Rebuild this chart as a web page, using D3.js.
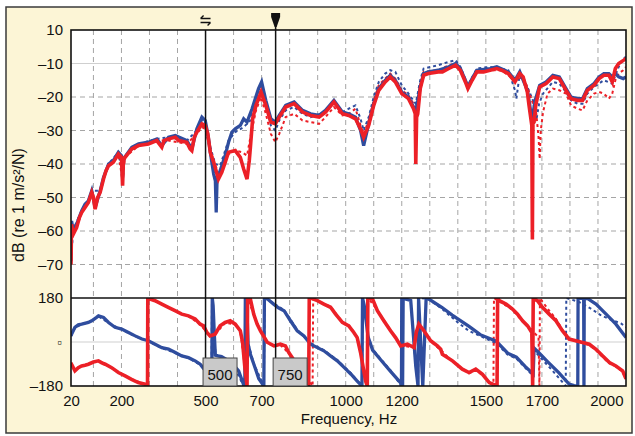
<!DOCTYPE html>
<html>
<head>
<meta charset="utf-8">
<script src="https://cdn.jsdelivr.net/npm/d3@7"></script>
<style>
  body { margin: 0; background: #fff; }
  text { font-family: "Liberation Sans", Arial, sans-serif; }
</style>
</head>
<body>
<div class="canvas"></div>
<script>
// axis ticks
const freqTicks = [20, 200, 500, 700, 1000, 1200, 1500, 1700, 2000];
const gridFreqs = [100, 200, 300, 400, 500, 600, 700, 800, 900, 1000, 1100, 1200, 1300, 1400, 1500, 1600, 1700, 1800, 1900];
const dbTicks = [0, -10, -20, -30, -40, -50, -60, -70];
const dbLabels = ['10', '\u201310', '\u201320', '\u201330', '\u201340', '\u201350', '\u201360', '\u201370'];
const phaseTicks = [180, 0, -180];
const phaseLabels = ['180', '\u25AB', '\u2013180'];
const cursors = [500, 750];

// magnitude, [Hz, dB]
const redMag = [[20,-70],[22,-58],[28,-61],[40,-59],[50,-56],[58,-54.5],[70,-53],[82,-51.5],[94,-48.5],[100,-50],[106,-53.5],[115,-50],[124,-48.5],[136,-44.5],[145,-42],[154,-40.5],[171,-39.5],[189,-37],[200,-38],[204,-46.5],[207,-39],[213,-38],[237,-35.5],[261,-34.5],[296,-34],[326,-33],[344,-35],[352,-33],[368,-32.5],[392,-32],[404,-33],[433,-33.5],[445,-35.5],[451,-36],[460,-32],[469,-30.5],[487,-28],[499,-28.5],[508,-31],[517,-36.5],[529,-39.5],[546,-44.5],[558,-42.5],[570,-39.5],[582,-36.5],[606,-36],[624,-38],[636,-41.5],[648,-44.5],[656,-39],[660,-35],[668,-26.5],[680,-22.5],[698,-18.5],[715,-22.5],[733,-27.5],[749,-28],[763,-26],[786,-23],[816,-22],[846,-24.5],[875,-25.5],[905,-26],[928,-24.5],[958,-21.5],[988,-25],[1011,-25.5],[1035,-26.5],[1053,-29.5],[1064,-32],[1082,-28.5],[1100,-22.5],[1118,-18],[1141,-15.5],[1159,-14],[1177,-15.5],[1200,-19],[1224,-20.5],[1242,-23.5],[1248,-25],[1250,-40],[1253,-26],[1257,-25],[1266,-17.5],[1278,-13.5],[1295,-13],[1330,-12.5],[1345,-12.5],[1368,-11.5],[1392,-10.5],[1409,-12],[1427,-15.5],[1436,-17.5],[1451,-15],[1468,-12.5],[1492,-12.5],[1515,-12],[1539,-11.5],[1556,-12],[1580,-13],[1604,-15.5],[1621,-13],[1633,-14],[1648,-18.5],[1654,-22.5],[1664,-28.5],[1666,-62.5],[1668,-28],[1672,-27.5],[1678,-22.5],[1692,-17],[1715,-16],[1739,-14],[1762,-14.5],[1786,-18],[1804,-20.5],[1827,-21],[1845,-21],[1862,-18],[1886,-16.5],[1904,-14.5],[1921,-13.5],[1939,-13.5],[1951,-15.5],[1962,-11.5],[1974,-10],[1992,-9],[2000,-8.5]];
const blueMag = [[20,-69],[22,-57],[28,-60],[40,-58],[58,-54],[70,-52],[82,-51],[94,-48],[106,-53],[124,-48],[136,-44],[154,-40],[171,-39],[189,-36.5],[200,-37.5],[204,-44],[207,-38.5],[237,-35],[261,-34],[296,-33.5],[326,-32.5],[344,-34.5],[368,-32],[392,-31.5],[433,-33],[451,-35.5],[469,-29.5],[487,-26],[499,-27],[510,-32],[517,-36.5],[529,-43],[535,-45],[538,-54.5],[541,-45],[552,-42],[570,-37.5],[582,-33.5],[594,-30.5],[606,-29.5],[624,-28.5],[636,-26.5],[648,-27.5],[666,-23.5],[689,-17.5],[700,-15.5],[715,-21],[733,-26.5],[749,-27.5],[763,-25.5],[786,-22.5],[816,-21.5],[846,-24],[875,-25],[905,-25.5],[928,-24],[958,-21],[988,-24.5],[1011,-25],[1035,-26],[1053,-30],[1064,-34.5],[1082,-28],[1100,-22],[1118,-17.5],[1141,-15],[1159,-13.5],[1177,-15],[1200,-18.5],[1224,-20],[1242,-23],[1250,-24.5],[1266,-17],[1278,-13],[1295,-12.5],[1330,-12],[1368,-11],[1392,-10],[1409,-11.5],[1427,-15],[1436,-17],[1451,-14.5],[1468,-12],[1515,-11.5],[1539,-11],[1580,-12.5],[1604,-15],[1621,-12.5],[1648,-18],[1656,-22],[1664,-27],[1670,-24],[1676,-21],[1692,-16.5],[1715,-15.5],[1739,-13.5],[1762,-14],[1786,-17.5],[1804,-20],[1827,-20.5],[1845,-20.5],[1862,-17.5],[1886,-16],[1904,-14],[1921,-13],[1939,-13],[1951,-14],[1962,-13],[1974,-14],[1990,-14.5],[2000,-14]];
const redMagDash = [[20,-70],[22,-58],[40,-59],[58,-54.5],[82,-51.5],[94,-48.5],[106,-53],[124,-48.5],[136,-44.5],[154,-40.5],[189,-37],[204,-45],[213,-38],[261,-34.5],[326,-33],[368,-33],[433,-34],[469,-31],[487,-29],[499,-29.5],[517,-36],[546,-43],[570,-39],[582,-37],[606,-36],[630,-36.5],[648,-37.5],[660,-32],[680,-24],[698,-20],[715,-25],[733,-31],[749,-33.5],[763,-31],[786,-26],[816,-25],[846,-27],[875,-27.5],[905,-28],[928,-26],[958,-23],[988,-25.5],[1011,-25],[1035,-23.5],[1053,-28.5],[1064,-31],[1082,-27],[1100,-21],[1118,-16.5],[1141,-14.5],[1159,-13],[1177,-14.5],[1200,-18],[1224,-19.5],[1242,-22],[1257,-24],[1266,-16.5],[1278,-12.5],[1330,-12],[1368,-10.5],[1392,-10],[1409,-12],[1436,-17],[1468,-12.5],[1515,-12],[1556,-12],[1604,-15],[1633,-14],[1648,-17],[1668,-22],[1680,-25],[1688,-32],[1692,-38.5],[1696,-30],[1704,-24.5],[1720,-19],[1739,-17.5],[1762,-18],[1786,-19],[1804,-22.5],[1827,-23.5],[1845,-24],[1862,-21],[1886,-19],[1904,-18.5],[1921,-19],[1939,-20.5],[1951,-19],[1962,-15],[1974,-13],[1990,-12],[2000,-11]];
const blueMagDash = [[20,-69],[28,-59.5],[58,-54],[82,-51],[94,-48],[124,-48],[136,-44],[154,-40],[189,-36.5],[204,-43],[213,-37.5],[261,-34],[326,-32.5],[368,-32],[433,-33],[469,-30],[487,-27],[499,-28],[517,-35],[535,-40],[552,-40.5],[570,-36],[582,-33],[606,-30.5],[636,-29],[660,-27],[689,-18.5],[700,-16.5],[715,-22],[733,-28.5],[749,-30],[763,-27],[786,-24],[816,-23],[846,-25],[875,-26],[928,-24.5],[958,-21.5],[988,-24.5],[1011,-23.5],[1035,-22.5],[1053,-26.5],[1064,-30],[1082,-26],[1100,-20],[1118,-15.5],[1141,-13],[1159,-12],[1177,-12.5],[1200,-16.5],[1224,-19],[1250,-22],[1266,-15],[1278,-11.5],[1330,-10.5],[1368,-9.5],[1392,-9],[1409,-11],[1436,-16.5],[1468,-11.5],[1515,-11],[1580,-12],[1604,-18],[1609,-20.5],[1621,-13],[1648,-17],[1668,-21],[1680,-27],[1690,-22],[1704,-19],[1739,-15.5],[1762,-16],[1786,-18.5],[1804,-21],[1827,-22],[1845,-22],[1862,-19],[1886,-17],[1921,-15],[1951,-16],[1974,-11],[1990,-8.5],[2000,-8]];

// phase, [Hz, degrees]
const redPhase = [[20,-85],[22,-91],[34,-118],[46,-105],[58,-98],[70,-95],[82,-91],[100,-82],[118,-77],[130,-85],[142,-91],[165,-105],[189,-125],[213,-139],[236,-153],[260,-166],[284,-173],[293,-180],[294,180],[302,176],[320,169],[344,155],[367,142],[391,128],[415,114],[439,107],[463,94],[481,73],[493,66],[505,39],[516,25],[534,32],[552,66],[570,80],[588,87],[606,73],[624,46],[632,0],[640,-100],[648,-180],[650,180],[660,175],[672,113],[684,73],[696,45],[720,-1],[744,-16],[767,-9],[785,-16],[797,-43],[809,-63],[821,-84],[845,-130],[868,-180],[870,180],[881,178],[899,169],[922,155],[946,142],[964,114],[988,80],[1011,66],[1029,39],[1041,18],[1053,-43],[1071,-160],[1077,-180],[1079,180],[1095,178],[1113,128],[1136,87],[1160,46],[1178,18],[1196,-16],[1220,-9],[1244,-23],[1252,40],[1261,73],[1279,46],[1303,5],[1327,-16],[1339,-30],[1345,-50],[1381,-77],[1416,-111],[1440,-125],[1464,-111],[1488,-132],[1512,-166],[1540,-180],[1542,180],[1548,169],[1572,155],[1595,135],[1613,114],[1631,87],[1649,66],[1664,39],[1667,-180],[1669,180],[1684,169],[1702,142],[1726,114],[1750,87],[1773,46],[1797,12],[1821,5],[1845,-2],[1869,-9],[1893,-30],[1917,-57],[1941,-84],[1964,-98],[1988,-118],[2000,-150]];
const bluePhase = [[20,25],[22,32],[34,60],[46,70],[58,73],[82,80],[94,87],[110,100],[118,107],[136,100],[154,80],[177,60],[201,53],[225,39],[249,25],[273,12],[296,5],[320,-9],[344,-23],[368,-29],[392,-43],[415,-57],[439,-64],[463,-77],[481,-91],[500,-118],[515,-160],[522,-180],[524,180],[527,150],[531,40],[535,-54],[545,-57],[557,-60],[580,-75],[600,-95],[618,-118],[636,-175],[640,-180],[642,180],[648,120],[652,-10],[660,-50],[672,-90],[690,-150],[708,-180],[710,180],[721,176],[743,155],[760,140],[780,128],[803,87],[827,46],[851,25],[875,-9],[899,-23],[922,-36],[946,-57],[970,-77],[995,-105],[1019,-132],[1041,-160],[1058,-180],[1060,180],[1066,150],[1080,20],[1096,-33],[1130,-80],[1160,-120],[1196,-167],[1199,-180],[1200,180],[1203,-180],[1205,180],[1215,175],[1232,170],[1250,-100],[1258,-180],[1260,180],[1275,-180],[1287,180],[1294,178],[1344,141],[1380,110],[1440,64],[1480,30],[1537,3],[1578,-46],[1609,-62],[1640,-100],[1669,-131],[1672,-25],[1690,-45],[1720,-80],[1760,-125],[1797,-172],[1815,-178],[1828,-180],[1829,180],[1849,179],[1850,-180],[1851,180],[1865,176],[1893,155],[1929,114],[1964,73],[2000,18]];
const redPhaseDash = [[20,-85],[34,-116],[58,-97],[82,-90],[118,-76],[142,-90],[189,-124],[236,-152],[284,-172],[293,-180],[294,180],[344,154],[391,127],[439,106],[481,72],[505,38],[516,24],[534,31],[570,79],[606,72],[624,45],[640,-100],[648,-180],[650,180],[672,112],[696,44],[720,-3],[744,-18],[767,-12],[797,-46],[821,-86],[850,-125],[882,-180],[884,180],[899,170],[922,157],[946,144],[988,82],[1011,68],[1029,42],[1041,20],[1053,-40],[1071,-158],[1078,-180],[1080,180],[1113,130],[1160,48],[1196,-14],[1244,-22],[1261,72],[1303,3],[1339,-33],[1381,-80],[1440,-128],[1464,-114],[1488,-136],[1527,-180],[1529,180],[1548,166],[1595,132],[1631,84],[1649,64],[1670,40],[1688,20],[1691,-180],[1693,180],[1702,165],[1726,128],[1750,95],[1773,50],[1797,14],[1821,3],[1845,-4],[1869,-12],[1893,-34],[1917,-62],[1941,-88],[1964,-100],[1988,-122],[2000,-152]];
const bluePhaseDash = [[20,24],[34,58],[58,72],[94,86],[118,105],[154,78],[201,51],[249,23],[296,3],[344,-25],[392,-45],[439,-66],[481,-93],[500,-120],[515,-162],[521,-180],[523,180],[530,40],[536,-54],[557,-62],[600,-98],[636,-180],[641,-180],[643,180],[652,-5],[672,-88],[708,-180],[711,180],[743,158],[780,131],[827,50],[875,-5],[922,-33],[970,-74],[1019,-128],[1058,-180],[1061,180],[1080,25],[1096,-30],[1160,-116],[1198,-180],[1201,180],[1232,170],[1250,-100],[1258,-180],[1261,180],[1294,176],[1344,135],[1400,80],[1440,45],[1480,25],[1537,-5],[1578,-52],[1609,-68],[1640,-105],[1666,-135],[1668,-30],[1700,-70],[1740,-120],[1785,-180],[1787,180],[1830,165],[1870,140],[1912,108],[1950,90],[1982,76],[2000,60]];

const red = '#ec2027', blue = '#2f4d9e';
const pL = 71, pR = 626, pT = 30, pM = 298, pB = 386;

const svg = d3.select('.canvas')
  .append('svg')
  .attr('width', 635)
  .attr('height', 436);

// yellow frame
svg.append('rect')
  .attr('x', 6).attr('y', 7).attr('width', 626).attr('height', 426)
  .attr('fill', '#fcf5d6').attr('stroke', '#3a3a3a').attr('stroke-width', 1.5);

svg.append('rect')
  .attr('x', pL).attr('y', pT).attr('width', pR - pL).attr('height', pB - pT)
  .attr('fill', '#fff');

const x = d3.scaleLinear().domain([20, 2000]).range([pL, pR]);
const yMag = d3.scaleLinear().domain([-80, 0]).range([pM, pT]);
const yPh = d3.scaleLinear().domain([-180, 180]).range([pB, pM]);

const defs = svg.append('defs');
defs.append('clipPath').attr('id', 'clipMag').append('rect')
  .attr('x', pL).attr('y', pT).attr('width', pR - pL).attr('height', pM - pT);
defs.append('clipPath').attr('id', 'clipPh').append('rect')
  .attr('x', pL).attr('y', pM).attr('width', pR - pL).attr('height', pB - pM);

// grid
const grid = svg.append('g');
grid.selectAll('.vg').data(gridFreqs).join('line')
  .attr('x1', d => x(d)).attr('x2', d => x(d))
  .attr('y1', pT).attr('y2', pB)
  .attr('stroke', '#a5a5a5').attr('stroke-dasharray', '5,4');
grid.selectAll('.hg').data(dbTicks.filter(d => d < -10)).join('line')
  .attr('x1', pL).attr('x2', pR)
  .attr('y1', d => yMag(d)).attr('y2', d => yMag(d))
  .attr('stroke', '#a5a5a5').attr('stroke-dasharray', '5,4');
grid.append('line')
  .attr('x1', pL).attr('x2', pR).attr('y1', yMag(-10)).attr('y2', yMag(-10))
  .attr('stroke', '#cfcfcf');
grid.append('line')
  .attr('x1', pL).attr('x2', pR).attr('y1', yPh(0)).attr('y2', yPh(0))
  .attr('stroke', '#cfcfcf');

// curves
const magLine = d3.line().x(d => x(d[0])).y(d => yMag(d[1]));
const phLine = d3.line().x(d => x(d[0])).y(d => yPh(d[1]));

const series = [
  { mag: blueMagDash, ph: bluePhaseDash, color: blue, w: 2, dash: '3,3' },
  { mag: redMagDash, ph: redPhaseDash, color: red, w: 2, dash: '3,3' },
  { mag: blueMag, ph: bluePhase, color: blue, w: 3.3, dash: null },
  { mag: redMag, ph: redPhase, color: red, w: 3.6, dash: null },
];

const magG = svg.append('g').attr('clip-path', 'url(#clipMag)');
const phG = svg.append('g').attr('clip-path', 'url(#clipPh)');
series.forEach(s => {
  magG.append('path').datum(s.mag)
    .attr('d', magLine).attr('fill', 'none')
    .attr('stroke', s.color).attr('stroke-width', s.w)
    .attr('stroke-dasharray', s.dash);
  phG.append('path').datum(s.ph)
    .attr('d', phLine).attr('fill', 'none')
    .attr('stroke', s.color).attr('stroke-width', s.w)
    .attr('stroke-dasharray', s.dash);
});

// frame of the plot
svg.append('rect')
  .attr('x', pL).attr('y', pT).attr('width', pR - pL).attr('height', pB - pT)
  .attr('fill', 'none').attr('stroke', '#111').attr('stroke-width', 1.6);
svg.append('line')
  .attr('x1', pL).attr('x2', pR).attr('y1', pM).attr('y2', pM)
  .attr('stroke', '#111').attr('stroke-width', 1.6);

// cursors
const cur = svg.append('g');
cur.selectAll('line').data(cursors).join('line')
  .attr('x1', d => x(d)).attr('x2', d => x(d))
  .attr('y1', (d, i) => i === 0 ? pT : 26).attr('y2', 358)
  .attr('stroke', '#111').attr('stroke-width', 1.5);
cur.selectAll('rect').data(cursors).join('rect')
  .attr('x', d => x(d) - 2.5).attr('y', 358).attr('width', 34).attr('height', 28)
  .attr('fill', '#c9c9c9').attr('stroke', '#444').attr('stroke-width', 1);
cur.selectAll('text').data(cursors).join('text')
  .attr('x', d => x(d) + 14.5).attr('y', 380)
  .attr('text-anchor', 'middle').attr('font-size', 15).attr('fill', '#111')
  .text(d => d);

// cursor markers
const c0 = x(cursors[0]), c1 = x(cursors[1]);
svg.append('path')
  .attr('d', `M${c0 - 5},18.5 H${c0 + 5} M${c0 - 5},18.5 l3,-3 M${c0 - 5},22.5 H${c0 + 5} M${c0 + 5},22.5 l-3,3`)
  .attr('fill', 'none').attr('stroke', '#111').attr('stroke-width', 1.3);
svg.append('path')
  .attr('d', `M${c1 - 4.5},13 H${c1 + 4.5} V17 L${c1 + 1},27 H${c1 - 1} L${c1 - 4.5},17 Z`)
  .attr('fill', '#111');

// axes
function styleAxis(g) {
  g.select('.domain').remove();
  g.selectAll('text').attr('font-size', 15).attr('fill', '#111')
    .attr('font-family', '"Liberation Sans", Arial, sans-serif');
}
svg.append('g').attr('transform', `translate(${pL},0)`)
  .call(d3.axisLeft(yMag).tickValues(dbTicks).tickFormat((d, i) => dbLabels[i]).tickSize(0).tickPadding(8))
  .call(styleAxis);
svg.append('g').attr('transform', `translate(${pL},0)`)
  .call(d3.axisLeft(yPh).tickValues(phaseTicks).tickFormat((d, i) => phaseLabels[i]).tickSize(0).tickPadding(8))
  .call(styleAxis)
  .selectAll('text').filter(d => d === 0)
  .attr('font-size', 13).attr('dx', -1).attr('font-family', '"DejaVu Sans", sans-serif');
const xAxisG = svg.append('g').attr('transform', `translate(0,${pB})`)
  .call(d3.axisBottom(x).tickValues(freqTicks).tickFormat(d => String(d)).tickSize(0).tickPadding(9))
  .call(styleAxis);
xAxisG.selectAll('text').filter(d => d === 2000).attr('text-anchor', 'end').attr('dx', -3);

svg.append('text')
  .attr('transform', 'translate(24,205) rotate(-90)')
  .attr('text-anchor', 'middle').attr('font-size', 16).attr('fill', '#111')
  .text('dB (re 1 m/s\u00B2/N)');
svg.append('text')
  .attr('x', 349).attr('y', 424)
  .attr('text-anchor', 'middle').attr('font-size', 15).attr('fill', '#111')
  .text('Frequency, Hz');
</script>
</body>
</html>
